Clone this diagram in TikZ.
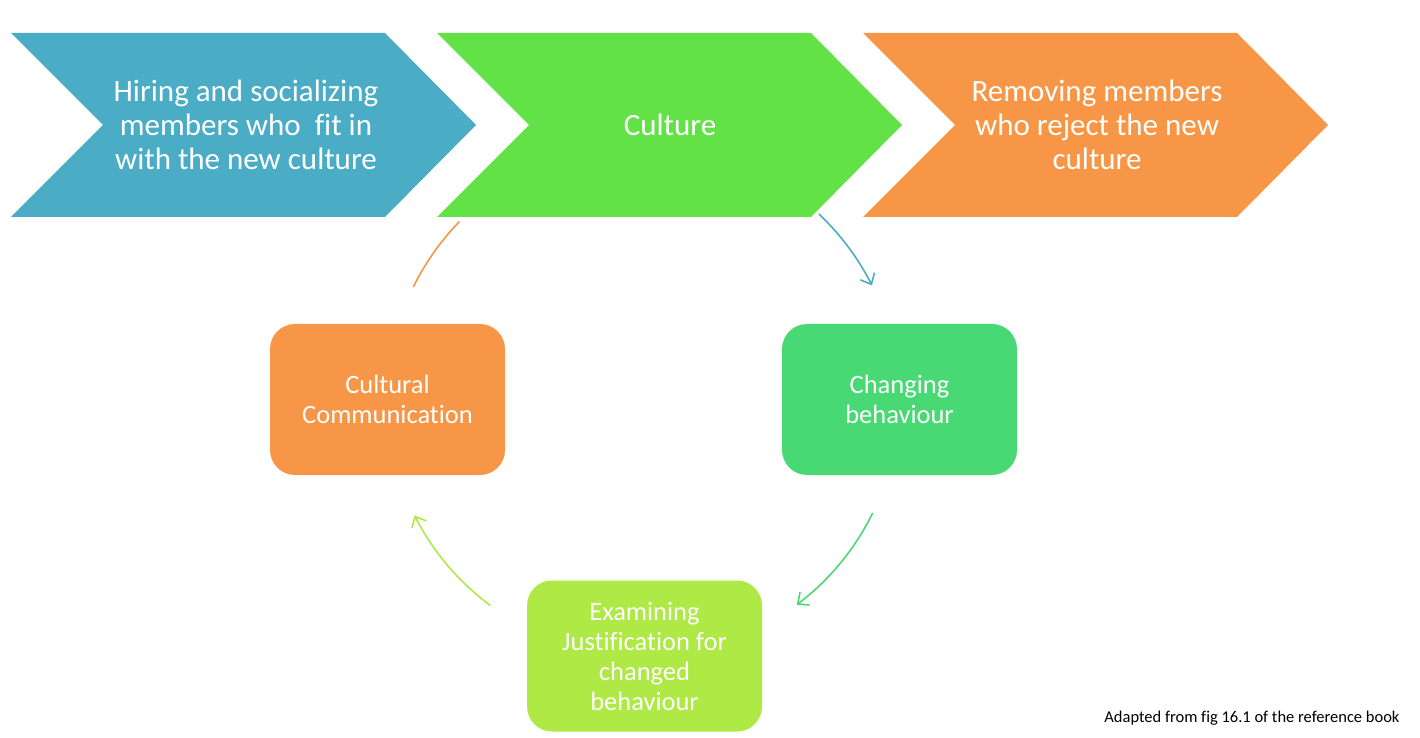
\documentclass[tikz,border=0pt]{standalone}
\usepackage{fontspec}
\setmainfont{Carlito}[Ligatures=NoCommon]
\usetikzlibrary{arrows.meta}

\definecolor{hireblue}{HTML}{4BACC6}
\definecolor{culturegreen}{HTML}{63E248}
\definecolor{removeorange}{HTML}{F79646}
\definecolor{changegreen}{HTML}{49D974}
\definecolor{examlime}{HTML}{AEE946}

\tikzset{
  chevtxt/.style={align=center,text=white,font=\fontsize{31}{34}\selectfont},
  stagebox/.style={rounded corners=25pt,minimum width=235pt,minimum height=151pt,
    align=center,text=white,font=\fontsize{26.5}{30}\selectfont},
  ringarrow/.style={line width=1.6pt,-{Straight Barb[length=9pt,width=16pt,line width=1.6pt]}}
}

\begin{document}
\begin{tikzpicture}[x=1pt,y=1pt]
\useasboundingbox (0,0) rectangle (1420,737);

%Define ring parameters
\def\rrad{256pt}        %Radius of the cycle.

% Define coordinates
\coordinate (ring) at (643,337);

% Chevrons
\fill[hireblue,shift={(11,0)}] (0,704) -- (374,704) -- (465,612) -- (374,520) -- (0,520) -- (92,612) -- cycle;
\fill[culturegreen,shift={(437,0)}] (0,704) -- (374,704) -- (465,612) -- (374,520) -- (0,520) -- (92,612) -- cycle;
\fill[removeorange,shift={(863,0)}] (0,704) -- (374,704) -- (465,612) -- (374,520) -- (0,520) -- (92,612) -- cycle;

\node[chevtxt] (hire) at (246,612) {Hiring and socializing\\members who\ \ fit in\\with the new culture};
\node[chevtxt] (culture) at (670,612) {Culture};
\node[chevtxt] (remove) at (1097,612) {Removing members\\who reject the new\\culture};

% Cycle boxes
\node[stagebox,fill=removeorange] (comm) at (387.5,337.5) {Cultural\\Communication};
\node[stagebox,fill=changegreen] (change) at (899.5,337.5) {Changing\\behaviour};
\node[stagebox,fill=examlime] (exam) at (644.5,81) {Examining\\Justification for\\changed\\behaviour};

% Arcs round the cycle
\draw[line width=1.6pt,removeorange] (ring) ++(153.8:\rrad) arc[start angle=153.8,end angle=135.8,radius=\rrad];
\draw[ringarrow,hireblue] (ring) ++(46.6:\rrad) arc[start angle=46.6,end angle=26.6,radius=\rrad];
\draw[ringarrow,changegreen] (ring) ++(-26.2:\rrad) arc[start angle=-26.2,end angle=-53.1,radius=\rrad];
\draw[ringarrow,examlime] (ring) ++(-126.6:\rrad) arc[start angle=-126.6,end angle=-153.2,radius=\rrad];

\node[anchor=east,font=\fontsize{16.5}{19}\selectfont] (note) at (1403,19) {Adapted from fig 16.1 of the reference book};

\end{tikzpicture}
\end{document}
